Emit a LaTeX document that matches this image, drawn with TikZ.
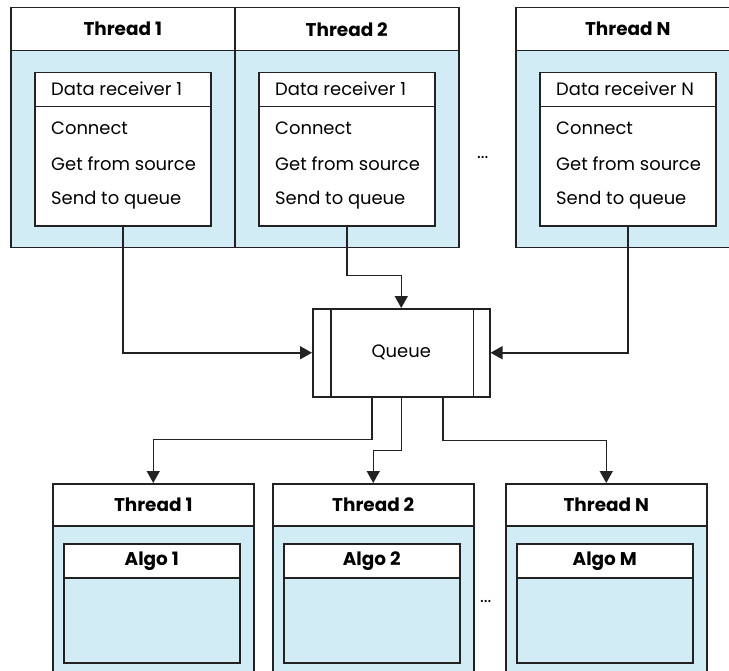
\documentclass[tikz,border=0pt]{standalone}
\usepackage{fontspec}
\setmainfont{Poppins}
\usetikzlibrary{arrows.meta,calc}
\definecolor{linec}{RGB}{34,34,34}
\definecolor{paneblue}{RGB}{209,236,244}

% one receiving thread: header, pane, data receiver card with its three steps
\newcommand{\recvunit}[4]{%
  \node[pane, minimum width=224bp, minimum height=196.5bp] (#1b) at (#2,50) {};
  \node[hdr, minimum width=224bp, minimum height=43bp] (#1h) at (#2,7) {#3};
  \node[card, minimum width=176bp, minimum height=34bp] (#1rh) at ({#2+24},72) {};
  \node[card, minimum width=176bp, minimum height=119bp] (#1rb) at ({#2+24},106) {};
  \node[itm] (#1n) at ({#2+41},89) {#4};
  \node[itm] (#1s1) at ({#2+41},128) {Connect};
  \node[itm] (#1s2) at ({#2+41},164) {Get from source};
  \node[itm] (#1s3) at ({#2+41},200) {Send to queue};
}
% one worker thread: header, pane, algorithm card
\newcommand{\algounit}[4]{%
  \node[pane, minimum width=201bp, minimum height=170bp] (#1b) at (#2,525) {};
  \node[hdr, minimum width=201bp, minimum height=42bp] (#1h) at (#2,483) {#3};
  \node[hdr, minimum width=176bp, minimum height=34bp] (#1ah) at ({#2+11},543) {#4};
  \node[pane, minimum width=176bp, minimum height=85bp] (#1ab) at ({#2+11},577) {};
}

\tikzset{
  box/.style={draw=linec, line width=1.5bp, inner sep=0pt, anchor=north west},
  pane/.style={box, fill=paneblue},
  card/.style={box, fill=white},
  hdr/.style={box, fill=white, font=\bfseries\fontsize{18.5}{22}\selectfont},
  itm/.style={anchor=west, inner sep=0pt, font=\fontsize{18}{22}\selectfont},
  conn/.style={draw=linec, line width=1.5bp, -{Triangle[length=12bp,width=13bp]}},
}

\begin{document}
\begin{tikzpicture}[x=1bp,y=-1bp]
\useasboundingbox (0,0) rectangle (729,671);
\clip (0,0) rectangle (729,671);

% receiving threads
\recvunit{t1}{10}{Thread 1}{Data receiver 1}
\recvunit{t2}{234}{Thread 2}{Data receiver 1}
\recvunit{tN}{515}{Thread N}{Data receiver N}
\node[itm] (dtop) at (477,157) {...};

% the shared queue
\node[card, minimum width=177bp, minimum height=88bp, font=\fontsize{18}{22}\selectfont] (queue) at (312,308) {Queue};
\draw[linec, line width=1.5bp] ([xshift=19bp]queue.north west) -- ([xshift=19bp]queue.south west);
\draw[linec, line width=1.5bp] ([xshift=-17bp]queue.north east) -- ([xshift=-17bp]queue.south east);

% worker threads
\algounit{a1}{52}{Thread 1}{Algo 1}
\algounit{a2}{272}{Thread 2}{Algo 2}
\algounit{aN}{505}{Thread N}{Algo M}
\node[itm] (dbot) at (480,601) {...};

% receivers feed the queue
\draw[conn] (t1rb.south) |- (queue.west);
\draw[conn] (t2rb.south) -- ++(0,49) -| (queue.north);
\draw[conn] (tNrb.south) |- (queue.east);

% queue feeds the workers
\draw[conn] ([xshift=60bp]queue.south west) -- ++(0,42) -| (a1h.north);
\draw[conn] (queue.south) -- ++(0,53) -| (a2h.north);
\draw[conn] ([xshift=131bp]queue.south west) -- ++(0,43) -| (aNh.north);
\end{tikzpicture}
\end{document}
